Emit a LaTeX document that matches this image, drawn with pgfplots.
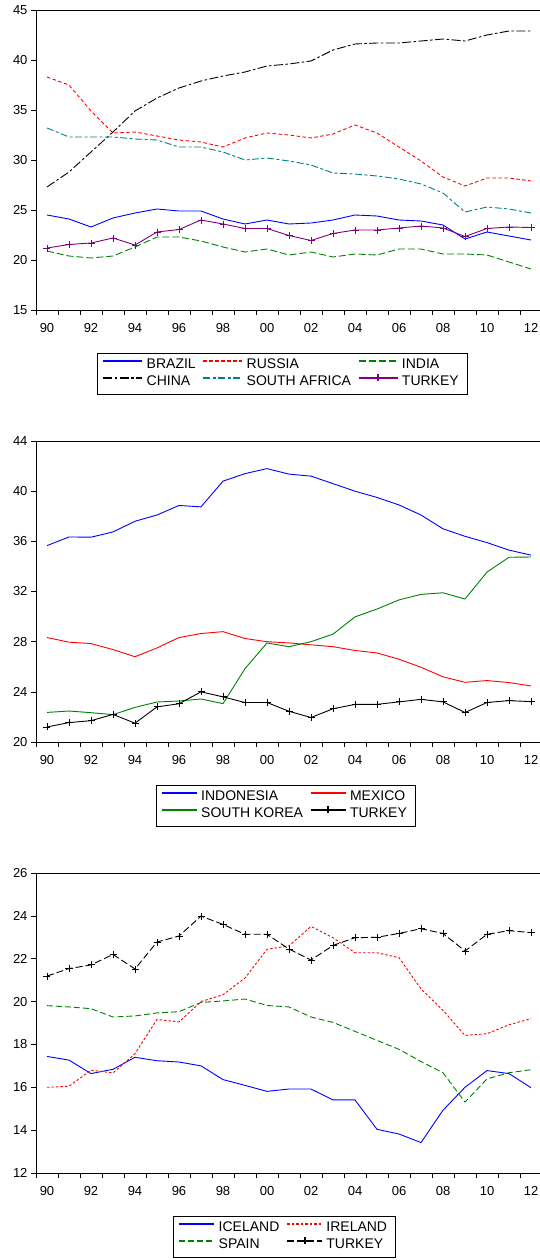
\documentclass[border=0pt]{standalone}
\usepackage{pgfplots}
\usepackage{pgfplotstable}
\usepackage{fontspec}
\pgfplotsset{compat=1.18}
\setmainfont{Liberation Sans}

\definecolor{evblue}{RGB}{0,0,255}
\definecolor{evred}{RGB}{255,0,0}
\definecolor{evgreen}{RGB}{0,128,0}
\definecolor{evteal}{RGB}{0,128,128}
\definecolor{evpurple}{RGB}{128,0,128}

% 1990 = 0, ..., 2012 = 22
\pgfplotstableread{
x brazil russia india china safrica turkey
0 24.5 38.3 20.9 27.3 33.2 21.2
1 24.1 37.5 20.4 28.8 32.3 21.55
2 23.3 34.9 20.2 30.8 32.3 21.7
3 24.2 32.7 20.4 32.8 32.3 22.2
4 24.7 32.8 21.3 34.9 32.1 21.5
5 25.1 32.4 22.3 36.2 32.0 22.8
6 24.9 32.0 22.3 37.2 31.3 23.05
7 24.9 31.8 21.9 37.9 31.3 24.0
8 24.1 31.3 21.3 38.4 30.8 23.6
9 23.6 32.2 20.8 38.8 30.0 23.15
10 24.0 32.7 21.1 39.4 30.2 23.15
11 23.6 32.5 20.5 39.6 29.9 22.45
12 23.7 32.2 20.8 39.9 29.5 21.95
13 24.0 32.6 20.3 41.0 28.7 22.65
14 24.5 33.5 20.6 41.6 28.6 23.0
15 24.4 32.7 20.5 41.7 28.4 23.0
16 24.0 31.3 21.1 41.7 28.1 23.2
17 23.9 29.9 21.1 41.9 27.6 23.4
18 23.5 28.3 20.6 42.1 26.7 23.2
19 22.1 27.4 20.6 41.9 24.8 22.35
20 22.8 28.2 20.5 42.5 25.3 23.15
21 22.4 28.2 19.8 42.9 25.1 23.3
22 22.0 27.9 19.1 42.9 24.7 23.25
}\brics

\pgfplotstableread{
x indonesia mexico skorea turkey
0 35.66 28.33 22.36 21.2
1 36.35 27.96 22.47 21.55
2 36.33 27.85 22.34 21.7
3 36.75 27.37 22.18 22.2
4 37.6 26.8 22.76 21.5
5 38.1 27.5 23.19 22.8
6 38.86 28.33 23.27 23.05
7 38.75 28.65 23.43 24.0
8 40.8 28.8 23.06 23.6
9 41.4 28.25 25.85 23.15
10 41.8 28.0 27.9 23.15
11 41.36 27.9 27.6 22.45
12 41.2 27.75 28.0 21.95
13 40.6 27.6 28.6 22.65
14 40.0 27.3 29.98 23.0
15 39.5 27.1 30.6 23.0
16 38.9 26.6 31.33 23.2
17 38.1 25.96 31.77 23.4
18 37.0 25.2 31.9 23.2
19 36.4 24.76 31.4 22.35
20 35.9 24.9 33.55 23.15
21 35.3 24.74 34.73 23.3
22 34.9 24.47 34.75 23.22
}\mint

\pgfplotstableread{
x iceland ireland spain turkey
0 17.44 16.0 19.81 21.19
1 17.27 16.05 19.75 21.54
2 16.64 16.8 19.67 21.71
3 16.84 16.67 19.28 22.2
4 17.4 17.57 19.33 21.52
5 17.24 19.17 19.47 22.78
6 17.18 19.05 19.53 23.06
7 17.0 20.0 19.96 23.99
8 16.36 20.32 20.03 23.6
9 16.09 21.1 20.12 23.14
10 15.81 22.44 19.82 23.14
11 15.92 22.6 19.75 22.45
12 15.92 23.51 19.28 21.94
13 15.41 22.98 19.03 22.62
14 15.41 22.28 18.61 22.98
15 14.04 22.28 18.19 23.0
16 13.82 22.05 17.77 23.18
17 13.42 20.59 17.2 23.4
18 14.93 19.59 16.68 23.18
19 16.0 18.42 15.31 22.36
20 16.78 18.5 16.39 23.14
21 16.64 18.92 16.68 23.31
22 15.98 19.2 16.82 23.22
}\europe

\pgfplotsset{
  evstyle/.style={
    scale only axis, width=506pt,
    xmin=-0.5, xmax=22.5,
    axis line style={line width=0.8pt},
    tick style={black, line width=0.6pt},
    tick align=outside,
    xtick={0,2,...,22},
    xticklabels={90,92,94,96,98,00,02,04,06,08,10,12},
    major x tick style={draw=none},
    minor xtick={-0.5,0.5,...,21.5},
    minor tick length=5pt,
    major tick length=5pt,
    xtick pos=bottom, ytick pos=left,
    ticklabel style={font=\fontsize{13}{15}\selectfont},
    xticklabel style={yshift=-5pt},
    /pgf/number format/assume math mode=true,
    legend cell align=left,
    legend style={anchor=north west,
      font=\fontsize{14}{16}\selectfont,
      inner xsep=5pt, inner ysep=3.5pt,
      nodes={inner xsep=3.25pt, inner ysep=2.5pt, text height=9.5pt, text depth=2.5pt},
      /tikz/every even column/.append style={column sep=3.5pt}},
    every axis plot/.append style={line width=0.9pt},
  },
  longleg/.style={legend image code/.code={
    \draw[mark repeat=2, mark phase=2, ##1, line width=2pt] plot coordinates {(0pt,4.5pt) (19.5pt,4.5pt) (39pt,4.5pt)};}},
  shortleg/.style={legend image code/.code={
    \draw[mark repeat=2, mark phase=2, ##1, line width=2pt] plot coordinates {(0pt,4.5pt) (17.5pt,4.5pt) (35pt,4.5pt)};}},
}

\begin{document}
\begin{tikzpicture}
\path[use as bounding box] (0,0) rectangle (540pt,-1260pt);

\begin{axis}[evstyle, longleg, at={(36pt,-10pt)}, anchor=north west, height=300pt,
  ymin=15, ymax=45, ytick={15,20,...,45},
  legend columns=3,
  legend style={at={(0.1211,-0.14333)}}]
  \addplot[draw=evblue, solid] table[x=x, y=brazil] {\brics};
  \addplot[draw=evred, dash pattern=on 3.5pt off 2.5pt] table[x=x, y=russia] {\brics};
  \addplot[draw=evgreen, dash pattern=on 7pt off 3pt] table[x=x, y=india] {\brics};
  \addplot[draw=black, dash pattern=on 9pt off 2.5pt on 2.5pt off 2.5pt] table[x=x, y=china] {\brics};
  \addplot[draw=evteal, dash pattern=on 7pt off 2.5pt on 3pt off 2.5pt] table[x=x, y=safrica] {\brics};
  \addplot[draw=evpurple, mark=+, mark size=3.5pt, mark options={solid, draw=evpurple}] table[x=x, y=turkey] {\brics};
  \legend{BRAZIL, RUSSIA, INDIA, CHINA, SOUTH AFRICA, TURKEY}
\end{axis}

\begin{axis}[evstyle, shortleg, at={(36pt,-441pt)}, anchor=north west, height=301pt,
  ymin=20, ymax=44, ytick={20,24,...,44},
  legend columns=2,
  legend style={at={(0.2366,-0.14286)}}]
  \addplot[draw=evblue] table[x=x, y=indonesia] {\mint};
  \addplot[draw=evred] table[x=x, y=mexico] {\mint};
  \addplot[draw=evgreen] table[x=x, y=skorea] {\mint};
  \addplot[draw=black, mark=+, mark size=3.5pt] table[x=x, y=turkey] {\mint};
  \legend{INDONESIA, MEXICO, SOUTH KOREA, TURKEY}
\end{axis}

\begin{axis}[evstyle, shortleg, at={(36pt,-873pt)}, anchor=north west, height=300pt,
  ymin=12, ymax=26, ytick={12,14,...,26},
  legend columns=2,
  legend style={at={(0.2713,-0.14333)}}]
  \addplot[draw=evblue] table[x=x, y=iceland] {\europe};
  \addplot[draw=evred, dash pattern=on 2.5pt off 2pt] table[x=x, y=ireland] {\europe};
  \addplot[draw=evgreen, dash pattern=on 6pt off 3pt] table[x=x, y=spain] {\europe};
  \addplot[draw=black, dash pattern=on 7pt off 3pt, mark=+, mark size=3.5pt, mark options={solid}] table[x=x, y=turkey] {\europe};
  \legend{ICELAND, IRELAND, SPAIN, TURKEY}
\end{axis}
\end{tikzpicture}
\end{document}
